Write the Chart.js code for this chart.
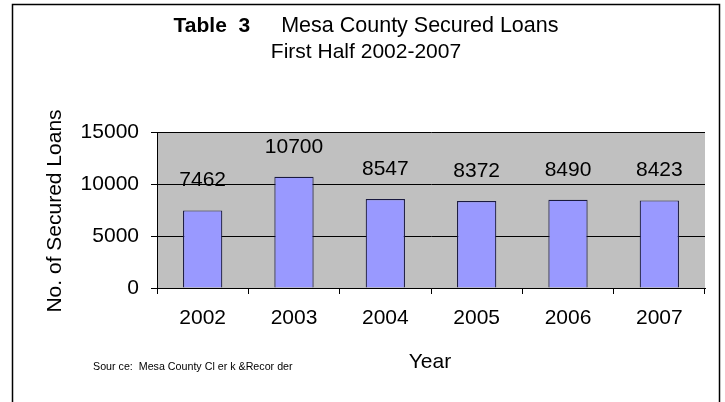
<!DOCTYPE html>
<html>
<head>
<meta charset="utf-8">
<script src="https://cdn.jsdelivr.net/npm/chart.js@4.4.1/dist/chart.umd.min.js"></script>
<style>
  html, body { margin: 0; padding: 0; background: #fff; }
  #wrap { width: 725px; height: 402px; position: relative; }
</style>
</head>
<body>
<div id="wrap"><canvas id="myChart" width="725" height="402"></canvas></div>
<script>
// data
const years = ['2002', '2003', '2004', '2005', '2006', '2007'];
const loans = [7462, 10700, 8547, 8372, 8490, 8423];
const yTicks = [0, 5000, 10000, 15000];

const font = '"Liberation Sans", Arial, sans-serif';

// grey plot area + outer frame + all the loose text
const decor = {
  id: 'decor',
  beforeDraw(chart) {
    const c = chart.ctx, a = chart.chartArea;
    c.save();
    c.fillStyle = '#fff';
    c.fillRect(0, 0, chart.width, chart.height);
    c.fillStyle = '#c0c0c0';
    c.fillRect(a.left, a.top, a.right - a.left, a.bottom - a.top);
    c.strokeStyle = '#000';
    c.lineWidth = 1.5;
    c.strokeRect(12.5, 4.5, 707, 420);
    c.restore();
  },
  afterDraw(chart) {
    const c = chart.ctx;
    c.save();
    c.fillStyle = '#000';
    c.textBaseline = 'alphabetic';

    // title line 1, mixed bold / regular, centred
    const boldPart = 'Table  3';
    const restPart = 'Mesa County Secured Loans';
    c.font = 'bold 21px ' + font;
    const w1 = c.measureText(boldPart).width;
    c.font = '21.5px ' + font;
    const gap = 31;
    const w2 = c.measureText(restPart).width;
    let x = 366 - (w1 + gap + w2) / 2;
    c.textAlign = 'left';
    c.font = 'bold 21px ' + font;
    c.fillText(boldPart, x, 32);
    c.font = '21.5px ' + font;
    c.fillText(restPart, x + w1 + gap, 32);

    c.textAlign = 'center';
    c.font = '21px ' + font;
    c.fillText('First Half 2002-2007', 366, 58);

    // x title
    c.fillText('Year', 430, 368);

    // y title
    c.save();
    c.translate(55, 211);
    c.rotate(-Math.PI / 2);
    c.textBaseline = 'middle';
    c.fillText('No. of Secured Loans', 0, 0);
    c.restore();

    // source note
    c.textAlign = 'left';
    c.font = '10.7px ' + font;
    c.fillText('Sour ce:  Mesa County Cl er k &Recor der', 93, 370);
    c.restore();
  }
};

// value labels sitting above the bars
const valueLabels = {
  id: 'valueLabels',
  afterDatasetsDraw(chart) {
    const c = chart.ctx;
    const meta = chart.getDatasetMeta(0);
    c.save();
    c.font = '21px ' + font;
    c.fillStyle = '#000';
    c.textAlign = 'center';
    c.textBaseline = 'middle';
    meta.data.forEach((bar, i) => {
      c.fillText(String(loans[i]), bar.x, bar.y - 30);
    });
    c.restore();
  }
};

const ctx = document.getElementById('myChart');

new Chart(ctx, {
  type: 'bar',
  data: {
    labels: years,
    datasets: [{
      data: loans,
      backgroundColor: '#9999ff',
      borderColor: '#1a1a40',
      borderWidth: 1.2,
      categoryPercentage: 1,
      barPercentage: 0.43
    }]
  },
  options: {
    responsive: false,
    animation: false,
    layout: { padding: { top: 132, right: 20, left: 0, bottom: 0 } },
    plugins: {
      legend: { display: false },
      tooltip: { enabled: false }
    },
    scales: {
      x: {
        afterFit: (s) => { s.height = 114; },
        grid: {
          offset: true,
          drawOnChartArea: false,
          tickLength: 6,
          color: '#000'
        },
        border: { color: '#000', width: 1 },
        ticks: {
          color: '#000',
          padding: 12,
          font: { family: font, size: 21 }
        }
      },
      y: {
        min: 0,
        max: 15000,
        afterFit: (s) => { s.width = 157; },
        afterBuildTicks: (s) => { s.ticks = yTicks.map(v => ({ value: v })); },
        grid: {
          color: '#000',
          tickLength: 6
        },
        border: { color: '#000', width: 1 },
        ticks: {
          color: '#000',
          padding: 12,
          font: { family: font, size: 21 },
          callback: (v) => String(v)
        }
      }
    }
  },
  plugins: [decor, valueLabels]
});
</script>
</body>
</html>
